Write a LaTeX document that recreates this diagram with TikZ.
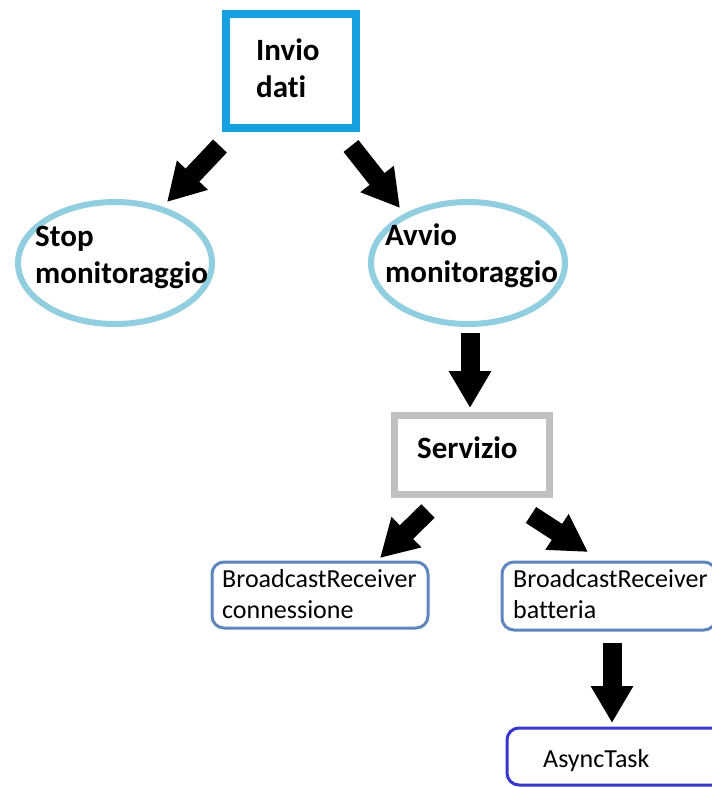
\documentclass[tikz,border=0pt]{standalone}
\usepackage{fontspec}
\setmainfont{Carlito}[Ligatures=NoCommon]
\usetikzlibrary{arrows.meta,shapes.geometric}

\definecolor{boxblue}{RGB}{20,160,225}
\definecolor{ovalblue}{RGB}{145,206,224}
\definecolor{boxgray}{RGB}{192,192,192}
\definecolor{recvblue}{RGB}{95,135,190}
\definecolor{taskblue}{RGB}{55,55,205}

% multi-line text nodes are placed by the baseline of their last line
\tikzset{
  bigtext/.style={font=\bfseries\fontsize{31}{37}\selectfont, align=left, inner sep=0pt, anchor=base west},
  smalltext/.style={font=\fontsize{26}{31}\selectfont, align=left, inner sep=0pt, anchor=base west},
  oval/.style={ellipse, draw=ovalblue, line width=6pt, inner sep=0pt, minimum width=194pt, minimum height=122pt},
  recv/.style={draw=recvblue, line width=3pt, rounded corners=12pt},
  blockarrow/.style={line width=19pt, -{Triangle[length=37pt,width=40pt]}},
}

\begin{document}
\begin{tikzpicture}[x=1pt,y=-1pt]
  \useasboundingbox[fill=white] (0,0) rectangle (712,787);

  % top box
  \draw[boxblue, line width=8pt] (226,14) rectangle (356,128);
  \node[bigtext] (invio) at (256,97) {Invio\\dati};

  % ovals
  \node[oval] (stop) at (115,263) {};
  \node[bigtext] (stopT) at (35,283) {Stop\\monitoraggio};
  \node[oval] (avvio) at (468,263) {};
  \node[bigtext] (avvioT) at (385,282) {Avvio\\monitoraggio};

  % service box
  \draw[boxgray, line width=7pt] (394.5,415) rectangle (549.5,494);
  \node[bigtext] (serv) at (417,458) {Servizio};

  % receivers
  \draw[recv] (212,562) rectangle (428,628);
  \node[smalltext] (conn) at (222,618) {BroadcastReceiver\\connessione};
  \draw[recv] (502,562) rectangle (716,630);
  \node[smalltext] (batt) at (513,618) {BroadcastReceiver\\batteria};

  % async task
  \draw[taskblue, line width=3pt, rounded corners=12pt] (507,728) rectangle (740,785);
  \node[smalltext] (task) at (543,767) {AsyncTask};

  % arrow end points
  \coordinate (a1s) at (220,146); \coordinate (a1e) at (167,202);
  \coordinate (a2s) at (351,146); \coordinate (a2e) at (400,208);
  \coordinate (a3s) at (470,333); \coordinate (a3e) at (470,408);
  \coordinate (a4s) at (428,511); \coordinate (a4e) at (380,558);
  \coordinate (a5s) at (531,515); \coordinate (a5e) at (588,552);
  \coordinate (a6s) at (612,643); \coordinate (a6e) at (612,723);

  \draw[blockarrow] (a1s) -- (a1e);
  \draw[blockarrow] (a2s) -- (a2e);
  \draw[blockarrow] (a3s) -- (a3e);
  \draw[blockarrow] (a4s) -- (a4e);
  \draw[blockarrow] (a5s) -- (a5e);
  \draw[blockarrow] (a6s) -- (a6e);
\end{tikzpicture}
\end{document}
